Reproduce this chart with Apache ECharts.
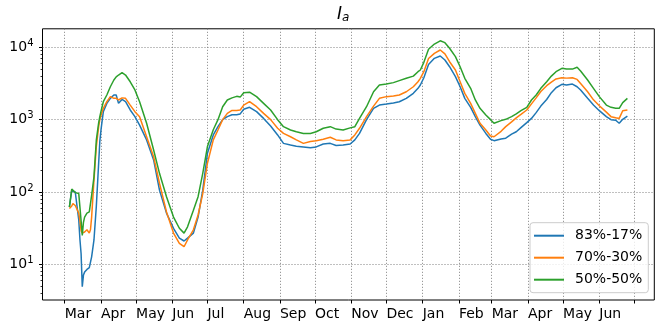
<!DOCTYPE html>
<html lang="en">
<head>
    <meta charset="UTF-8">
    <title>I_a</title>
    <script type="text/javascript" src="https://cdn.jsdelivr.net/npm/echarts@6/dist/echarts.min.js"></script>
    <style>
        html, body { margin: 0; padding: 0; background: #fff; }
        #chart { width: 662px; height: 329px; }
    </style>
</head>
<body>
<div id="chart"></div>
<script type="text/javascript">
    // dates of the samples
    var dates = [
        '2020-03-05', '2020-03-07', '2020-03-08', '2020-03-10', '2020-03-11', '2020-03-13', '2020-03-14',
        '2020-03-15', '2020-03-16', '2020-03-17', '2020-03-18', '2020-03-20', '2020-03-22', '2020-03-23',
        '2020-03-24', '2020-03-26', '2020-03-28', '2020-03-30', '2020-03-31', '2020-04-01', '2020-04-03',
        '2020-04-06', '2020-04-09', '2020-04-12', '2020-04-14', '2020-04-16', '2020-04-19', '2020-04-22',
        '2020-04-26', '2020-04-30', '2020-05-04', '2020-05-10', '2020-05-16', '2020-05-21', '2020-05-27',
        '2020-06-02', '2020-06-07', '2020-06-11', '2020-06-14', '2020-06-19', '2020-06-23', '2020-06-27',
        '2020-07-01', '2020-07-06', '2020-07-10', '2020-07-14', '2020-07-18', '2020-07-22', '2020-07-26',
        '2020-07-29', '2020-08-01', '2020-08-06', '2020-08-12', '2020-08-18', '2020-08-24', '2020-08-30',
        '2020-09-04', '2020-09-10', '2020-09-15', '2020-09-21', '2020-09-27', '2020-10-02', '2020-10-08',
        '2020-10-14', '2020-10-19', '2020-10-25', '2020-10-31', '2020-11-04', '2020-11-08', '2020-11-14',
        '2020-11-20', '2020-11-25', '2020-12-01', '2020-12-07', '2020-12-12', '2020-12-18', '2020-12-24',
        '2020-12-28', '2020-12-30', '2021-01-02', '2021-01-06', '2021-01-11', '2021-01-16', '2021-01-20',
        '2021-01-24', '2021-01-29', '2021-02-02', '2021-02-06', '2021-02-11', '2021-02-15', '2021-02-19',
        '2021-02-24', '2021-02-28', '2021-03-03', '2021-03-09', '2021-03-13', '2021-03-18', '2021-03-22',
        '2021-03-26', '2021-03-31', '2021-04-04', '2021-04-08', '2021-04-12', '2021-04-17', '2021-04-21',
        '2021-04-25', '2021-04-30', '2021-05-04', '2021-05-09', '2021-05-13', '2021-05-16', '2021-05-22',
        '2021-05-27', '2021-06-01', '2021-06-07', '2021-06-11', '2021-06-15', '2021-06-18', '2021-06-21',
        '2021-06-25'
    ];
    var s83 = [
        62, 105, 100, 100, 95, 41, 22,
        14, 4.9, 7.1, 7.8, 8.5, 9.0, 9.3,
        12.7, 21.7, 63, 250, 500, 720, 1290,
        1680, 1970, 2190, 2190, 1680, 1900, 1770,
        1360, 1100, 840, 525, 277, 106, 51,
        31.5, 23, 21, 23, 27, 45, 106,
        343, 615, 800, 1000, 1100, 1170, 1170,
        1200, 1390, 1480, 1290, 1040, 815, 615,
        470, 445, 430, 420, 410, 420, 460,
        470, 440, 445, 460, 525, 645, 1000,
        1430, 1590, 1640, 1700, 1770, 1970, 2310,
        2710, 3010, 3800, 5800, 7040, 7580, 6670,
        5390, 3930, 2850, 1970, 1480, 1100, 840,
        645, 535, 512, 540, 555, 630, 680,
        775, 910, 1040, 1250, 1540, 1900, 2360,
        2760, 3080, 3010, 3100, 2850, 2570, 1970,
        1590, 1330, 1100, 1000, 980, 890, 1010,
        1120
    ];
    var s70 = [
        59, 64, 69, 65, 60, 51, 40,
        29, 27, 26, 28, 30, 27, 30,
        45, 146, 423, 800, 1000, 1150, 1435,
        1770, 2080, 1970, 1970, 1870, 2000, 1970,
        1590, 1290, 1100, 580, 307, 132, 53,
        27, 19.5, 17.5, 21.7, 30, 48, 95,
        250, 525, 720, 1000, 1220, 1340, 1340,
        1360, 1590, 1770, 1510, 1220, 1000, 760,
        645, 580, 525, 470, 500, 510, 535,
        570, 525, 510, 525, 615, 760, 1100,
        1540, 1970, 2080, 2120, 2190, 2430, 2850,
        3340, 3730, 4600, 7000, 8260, 9180, 8100,
        6320, 4860, 3340, 2310, 1680, 1220, 890,
        720, 595, 580, 690, 800, 930, 1060,
        1180, 1360, 1650, 2000, 2450, 2950, 3300,
        3650, 3800, 3750, 3800, 3600, 3160, 2430,
        1880, 1560, 1270, 1100, 1060, 1040, 1330,
        1360
    ];
    var s50 = [
        62, 110, 105, 98, 97, 95, 90,
        40, 25, 38, 45, 51, 53, 56,
        90, 162, 520, 900, 1100, 1300, 1770,
        2190, 2850, 3530, 3900, 4140, 4460, 4140,
        3340, 2570, 1770, 890, 380, 181, 86,
        45, 31.5, 27, 33, 56, 86, 181,
        425, 725, 1000, 1510, 1870, 2000, 2100,
        2050, 2360, 2400, 2080, 1680, 1360, 1000,
        800, 720, 680, 645, 645, 680, 760,
        800, 740, 720, 770, 800, 1040, 1510,
        2430, 3010, 3100, 3250, 3460, 3730, 4000,
        4600, 4860, 6200, 9400, 11100, 12300, 11600,
        9700, 7420, 5390, 3730, 2710, 1870, 1435,
        1160, 1000, 890, 970, 1010, 1100, 1200,
        1330, 1480, 1870, 2190, 2710, 3340, 4000,
        4600, 5120, 5000, 5000, 5290, 4700, 3530,
        2710, 2080, 1590, 1480, 1435, 1435, 1720,
        1970
    ];
    var seriesNames = ['83%-17%', '70%-30%', '50%-50%'];
    var colors = ['#1f77b4', '#ff7f0e', '#2ca02c'];

    // axis ticks
    var monthTicks = [
        '2020-03-01', '2020-04-01', '2020-05-01', '2020-06-01', '2020-07-01', '2020-08-01',
        '2020-09-01', '2020-10-01', '2020-11-01', '2020-12-01', '2021-01-01', '2021-02-01',
        '2021-03-01', '2021-04-01', '2021-05-01', '2021-06-01', '2021-07-01'
    ];
    var monthNames = ['Jan', 'Feb', 'Mar', 'Apr', 'May', 'Jun', 'Jul', 'Aug', 'Sep', 'Oct', 'Nov', 'Dec'];
    var yMajor = [10, 100, 1000, 10000];
    var yMinor = [4, 5, 6, 7, 8, 9, 20, 30, 40, 50, 60, 70, 80, 90, 200, 300, 400, 500, 600, 700, 800, 900,
        2000, 3000, 4000, 5000, 6000, 7000, 8000, 9000];

    function toTime(s) {
        var p = s.split('-');
        return Date.UTC(+p[0], +p[1] - 1, +p[2]);
    }

    var font = 'DejaVu Sans';
    var yMin = 3.21, yMax = 18030;

    var mychart = echarts.init(document.getElementById('chart'), null, {renderer: 'canvas'});
    var option = {
        animation: false,
        backgroundColor: '#fff',
        title: {
            text: '{i|I}{s|a}',
            left: 337,
            top: 5,
            padding: 0,
            textStyle: {
                fontWeight: 'normal',
                rich: {
                    i: {fontFamily: font, fontStyle: 'italic', fontWeight: 'normal', fontSize: 17, color: '#000'},
                    s: {fontFamily: font, fontStyle: 'italic', fontWeight: 'normal', fontSize: 12, color: '#000', padding: [7, 0, 0, 0]}
                }
            }
        },
        grid: {
            left: 42.5, right: 7.7, top: 28.8, bottom: 29,
            show: true, borderColor: '#000', borderWidth: 1, backgroundColor: 'transparent'
        },
        legend: {
            orient: 'vertical',
            right: 13.7,
            bottom: 36.3,
            padding: [5, 6, 5, 4],
            icon: 'rect',
            itemWidth: 30,
            itemHeight: 2,
            itemGap: 6,
            backgroundColor: 'rgba(255,255,255,0.8)',
            borderColor: '#cccccc',
            borderWidth: 1,
            borderRadius: 3,
            textStyle: {fontFamily: font, fontSize: 14, color: '#000', padding: [0, 0, 0, 6], lineHeight: 16},
            data: seriesNames
        },
        xAxis: {
            type: 'value',
            min: toTime('2020-02-11'),
            max: toTime('2021-07-18'),
            axisLine: {show: false},
            axisTick: {
                show: true, length: 3.5, lineStyle: {color: '#000', width: 1},
                customValues: monthTicks.map(toTime)
            },
            axisLabel: {
                fontFamily: font, fontSize: 14, color: '#000', margin: 7, align: 'left',
                customValues: monthTicks.slice(0, 16).map(toTime),
                formatter: function (v) {
                    return monthNames[new Date(v).getUTCMonth()];
                }
            },
            splitLine: {show: true, lineStyle: {color: '#808080', type: [1, 2], width: 1}}
        },
        yAxis: [{
            type: 'log',
            min: yMin,
            max: yMax,
            axisLine: {show: false},
            axisTick: {
                show: true, length: 3.5, lineStyle: {color: '#000', width: 1},
                customValues: yMajor
            },
            axisLabel: {
                margin: 9,
                customValues: yMajor,
                formatter: function (v) {
                    return '{b|10}{s|' + Math.round(Math.log10(v)) + '}';
                },
                rich: {
                    b: {fontFamily: font, fontSize: 14, color: '#000'},
                    s: {fontFamily: font, fontSize: 10, color: '#000', padding: [0, 0, 8, 0]}
                }
            },
            splitLine: {show: true, lineStyle: {color: '#808080', type: [1, 2], width: 1}}
        }, {
            type: 'log',
            min: yMin,
            max: yMax,
            position: 'left',
            axisLine: {show: false},
            axisTick: {
                show: true, length: 2, lineStyle: {color: '#000', width: 0.8},
                customValues: yMinor
            },
            axisLabel: {show: false},
            splitLine: {show: false}
        }],
        series: [0, 1, 2].map(function (k) {
            var vals = [s83, s70, s50][k];
            return {
                name: seriesNames[k],
                type: 'line',
                yAxisIndex: 0,
                symbol: 'none',
                color: colors[k],
                lineStyle: {width: 1.5, color: colors[k]},
                data: dates.map(function (d, i) { return [toTime(d), vals[i]]; })
            };
        })
    };
    mychart.setOption(option);
</script>
</body>
</html>
